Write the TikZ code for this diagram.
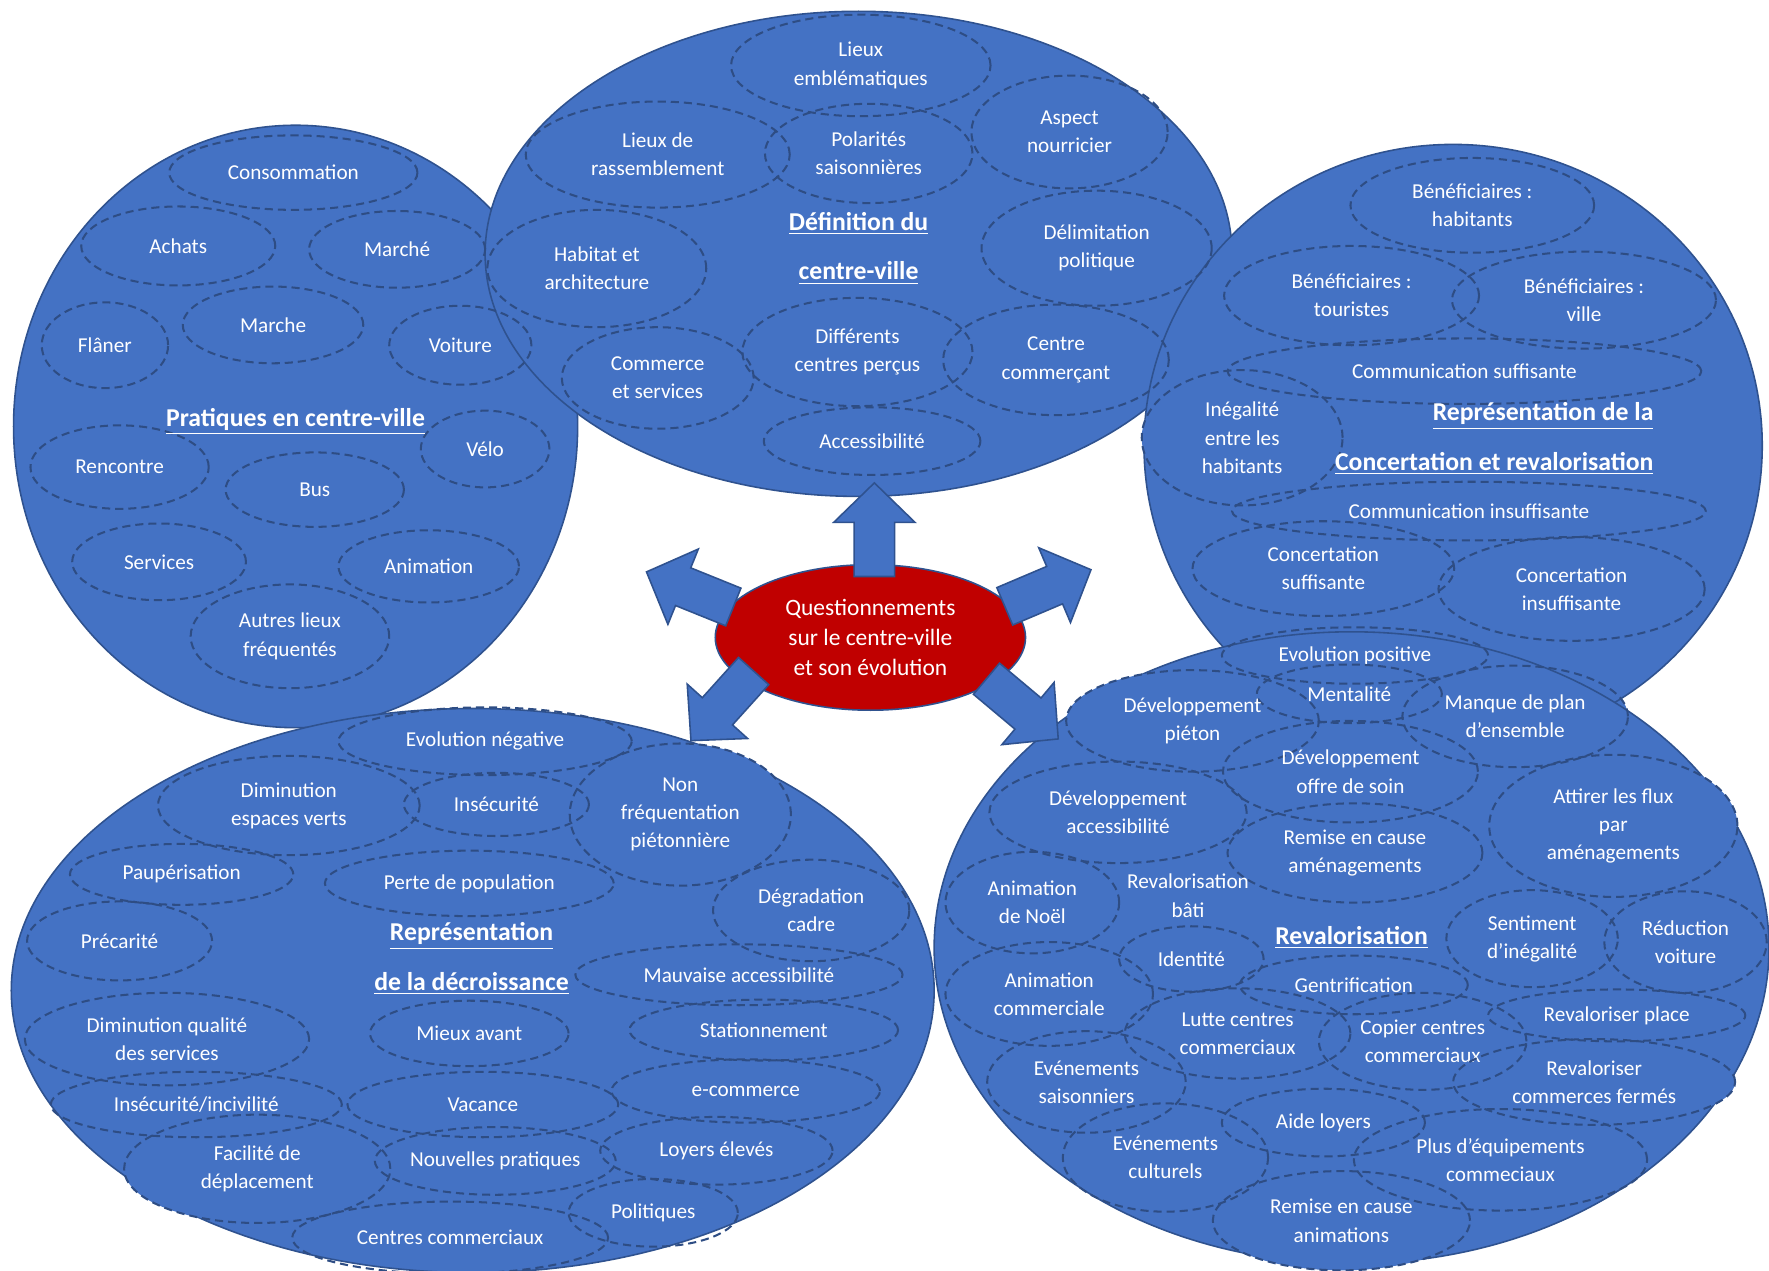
\documentclass[tikz,border=0pt]{standalone}
\usepackage{fontspec}
\setmainfont{Carlito}
\usepackage{tikz}
\usetikzlibrary{shapes.geometric}
\definecolor{ZoneBlue}{HTML}{4472C4}
\definecolor{ZoneStroke}{HTML}{2F528F}
\definecolor{DashStroke}{HTML}{2E4D84}
\definecolor{CoreRed}{HTML}{C00000}

\begin{document}
\begin{tikzpicture}[x=0.5pt, y=-0.5pt,
  every node/.style={font=\fontsize{9.4}{12.5}\selectfont, text=white, align=center, inner sep=0pt},
  zone/.style 2 args={ellipse, draw=ZoneStroke, fill=ZoneBlue, line width=0.7pt, minimum width=#1pt, minimum height=#2pt},
  bub/.style 2 args={ellipse, draw=DashStroke, dash pattern=on 3.6pt off 2.2pt, line width=0.9pt, minimum width=#1pt, minimum height=#2pt},
  ttl/.style={font=\fontsize{11.4}{22}\selectfont\bfseries},
  blkarrow/.style={fill=ZoneBlue, draw=ZoneStroke, line width=0.7pt, line join=miter}]
  \path[use as bounding box, fill=white] (0,0) rectangle (1568,1126);

  % bubble that sticks out between two zones
  \fill[ZoneBlue] (1343,635) ellipse [x radius=100, y radius=45];

  % the five zones
  \node[zone={250}{267}] (pratiques) at (262,378) {};
  \node[zone={331}{215}] (definition) at (761,225) {};
  \node[zone={274}{267}] (concertation) at (1288,395) {};
  \node[zone={409}{250}] (decroissance) at (419,878) {};
  \node[zone={370}{280}] (revalo) at (1198,840) {};

  % bubbles that stick out of their zone
  \foreach \cx/\cy/\rx/\ry in {603/722/98/63, 228/1036/118/48, 1101/388/89/60, 1057/639/112/45,
                               1430/732/110/63, 1494/835/72/45, 1413/959/125/38, 1189/1082/114/44}
    \fill[ZoneBlue] (\cx,\cy) ellipse [x radius=\rx, y radius=\ry];

  % pratiques en centre-ville
  \node[bub={110}{33}] (conso) at (260,153) {Consommation};
  \node[bub={86}{35}] (achats) at (158,218) {Achats};
  \node[bub={78}{34}] (marchePl) at (352,221) {Marché};
  \node[bub={56}{38}] (flaner) at (93,306) {Flâner};
  \node[bub={80}{34}] (marche) at (242,288) {Marche};
  \node[bub={63}{35}] (voiture) at (408,306) {Voiture};
  \node[bub={57}{34}] (velo) at (430,398) {Vélo};
  \node[bub={79}{37}] (rencontre) at (106,414) {Rencontre};
  \node[bub={79}{33}] (bus) at (279,434) {Bus};
  \node[bub={77}{34}] (services) at (141,498) {Services};
  \node[bub={80}{32}] (animation) at (380,502) {Animation};
  \node[bub={88}{46}] (autres) at (257,564) {Autres lieux\\fréquentés};
  \node[ttl] (tPratiques) at (262,374) {\underline{Pratiques en centre-ville}};

  % definition du centre-ville
  \node[bub={115}{45}] (lieuxEmb) at (763,58) {Lieux\\emblématiques};
  \node[bub={117}{47}] (rassemb) at (583,137) {Lieux de\\rassemblement};
  \node[bub={92}{44}] (polarites) at (770,136) {Polarités\\saisonnières};
  \node[bub={87}{50}] (nourricier) at (948,117) {Aspect\\nourricier};
  \node[bub={97}{52}] (habitat) at (529,238) {Habitat et\\architecture};
  \node[bub={102}{51}] (delimit) at (972,220) {Délimitation\\politique};
  \node[bub={85}{45}] (commerce) at (583,335) {Commerce\\et services};
  \node[bub={102}{48}] (centresPercus) at (760,312) {Différents\\centres perçus};
  \node[bub={100}{49}] (commercant) at (936,319) {Centre\\commerçant};
  \node[bub={96}{30}] (access) at (773,391) {Accessibilité};
  \node[ttl] (tDefinition) at (761,220) {\underline{Définition du}\\\underline{centre-ville}};

  % concertation et revalorisation
  \node[bub={108}{42}] (benefHab) at (1305,182) {Bénéficiaires :\\habitants};
  \node[bub={113}{44}] (benefTour) at (1198,262) {Bénéficiaires :\\touristes};
  \node[bub={117}{43}] (benefVille) at (1404,266) {Bénéficiaires :\\ville};
  \node[bub={210}{29}] (comSuff) at (1298,329) {Communication suffisante};
  \node[bub={89}{60}] (inegal) at (1101,388) {Inégalité\\entre les\\habitants};
  \node[bub={210}{26}] (comInsuff) at (1302,453) {Communication insuffisante};
  \node[bub={116}{42}] (concSuff) at (1173,504) {Concertation\\suffisante};
  \node[bub={118}{46}] (concInsuff) at (1393,522) {Concertation\\insuffisante};
  \node[ttl, anchor=east, align=right] (tConcertation) at (1466,389) {\underline{Représentation de la}\\\underline{Concertation et revalorisation}};

  % representation de la decroissance
  \node[bub={130}{30}] (evoNeg) at (430,657) {Evolution négative};
  \node[bub={116}{44}] (dimVerts) at (256,714) {Diminution\\espaces verts};
  \node[bub={82}{28}] (insecu) at (440,713) {Insécurité};
  \node[bub={98}{63}] (nonFreq) at (603,722) {Non\\fréquentation\\piétonnière};
  \node[bub={99}{27}] (paup) at (161,775) {Paupérisation};
  \node[bub={128}{29}] (perte) at (416,783) {Perte de population};
  \node[bub={87}{45}] (degrad) at (719,807) {Dégradation\\cadre};
  \node[bub={82}{35}] (precar) at (106,834) {Précarité};
  \node[bub={145}{27}] (mauvAcc) at (655,864) {Mauvaise accessibilité};
  \node[bub={126}{41}] (dimQual) at (148,921) {Diminution qualité\\des services};
  \node[bub={88}{29}] (mieux) at (416,916) {Mieux avant};
  \node[bub={119}{27}] (station) at (677,913) {Stationnement};
  \node[bub={129}{29}] (incivil) at (174,979) {Insécurité/incivilité};
  \node[bub={120}{29}] (vacance) at (428,979) {Vacance};
  \node[bub={119}{28}] (ecom) at (661,967) {e-commerce};
  \node[bub={118}{48}] (facilite) at (228,1036) {Facilité de\\déplacement};
  \node[bub={103}{30}] (nouvPrat) at (439,1029) {Nouvelles pratiques};
  \node[bub={103}{30}] (loyers) at (635,1020) {Loyers élevés};
  \node[bub={75}{30}] (politiques) at (579,1075) {Politiques};
  \node[bub={140}{32}] (centresCom) at (399,1097) {Centres commerciaux};
  \node[ttl] (tDecroissance) at (418,850) {\underline{Représentation}\\\underline{de la décroissance}};

  % revalorisation
  \node[bub={118}{25}] (evoPos) at (1201,581) {Evolution positive};
  \node[bub={82}{26}] (mentalite) at (1196,615) {Mentalité};
  \node[bub={112}{45}] (devPieton) at (1057,639) {Développement\\piéton};
  \node[bub={100}{45}] (manquePlan) at (1343,635) {Manque de plan\\d’ensemble};
  \node[bub={113}{45}] (devSoin) at (1197,684) {Développement\\offre de soin};
  \node[bub={114}{45}] (devAcc) at (991,720) {Développement\\accessibilité};
  \node[bub={110}{63}] (attirer) at (1430,732) {Attirer les flux\\par\\aménagements};
  \node[bub={113}{44}] (remiseAm) at (1201,756) {Remise en cause\\aménagements};
  \node[bub={77}{45}] (noel) at (915,800) {Animation\\de Noël};
  \node (revBati) at (1053,794) {Revalorisation\\bâti};
  \node[bub={76}{43}] (sentiment) at (1358,832) {Sentiment\\d’inégalité};
  \node[bub={72}{45}] (reduction) at (1494,835) {Réduction\\voiture};
  \node[bub={64}{29}] (identite) at (1056,850) {Identité};
  \node[bub={101}{26}] (gentri) at (1200,873) {Gentrification};
  \node[bub={92}{46}] (animCom) at (930,881) {Animation\\commerciale};
  \node[bub={114}{23}] (place) at (1433,900) {Revaloriser place};
  \node[bub={100}{40}] (lutte) at (1097,916) {Lutte centres\\commerciaux};
  \node[bub={92}{43}] (copier) at (1261,923) {Copier centres\\commerciaux};
  \node[bub={125}{38}] (fermes) at (1413,959) {Revaloriser\\commerces fermés};
  \node[bub={88}{45}] (saison) at (963,959) {Evénements\\saisonniers};
  \node[bub={90}{30}] (aide) at (1173,995) {Aide loyers};
  \node[bub={91}{48}] (culturels) at (1033,1026) {Evénements\\culturels};
  \node[bub={130}{45}] (equip) at (1330,1028) {Plus d’équipements\\commeciaux};
  \node[bub={114}{44}] (remiseAn) at (1189,1082) {Remise en cause\\animations};
  \node[ttl] (tRevalo) at (1198,831) {\underline{Revalorisation}};

  % centre and block arrows
  \node[ellipse, fill=CoreRed, draw=ZoneStroke, line width=0.7pt, minimum width=137.5pt, minimum height=64.5pt,
        font=\fontsize{10.4}{13.5}\selectfont] (core) at (771.5,565) {Questionnements\\sur le centre-ville\\et son évolution};

  \draw[blkarrow, shift={(775,511)}, rotate=90] (0,-18) -- (48,-18) -- (48,-36) -- (83,0) -- (48,36) -- (48,18) -- (0,18) -- cycle;
  \draw[blkarrow, shift={(650,538)}, rotate=158] (0,-18) -- (48,-18) -- (48,-36) -- (83,0) -- (48,36) -- (48,18) -- (0,18) -- cycle;
  \draw[blkarrow, shift={(890.6,537.4)}, rotate=23] (0,-18) -- (48,-18) -- (48,-36) -- (83,0) -- (48,36) -- (48,18) -- (0,18) -- cycle;
  \draw[blkarrow, shift={(668,594.8)}, rotate=228] (0,-18) -- (48,-18) -- (48,-36) -- (83,0) -- (48,36) -- (48,18) -- (0,18) -- cycle;
  \draw[blkarrow, shift={(874.4,601.6)}, rotate=-40] (0,-18) -- (48,-18) -- (48,-36) -- (83,0) -- (48,36) -- (48,18) -- (0,18) -- cycle;
\end{tikzpicture}
\end{document}
